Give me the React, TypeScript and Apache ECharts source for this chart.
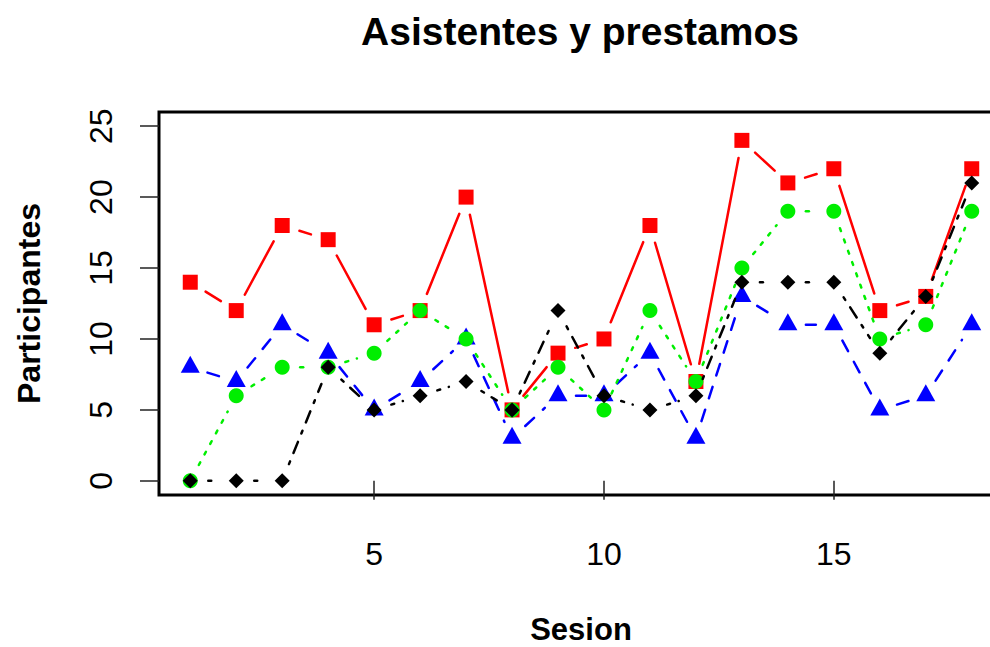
import React, { useEffect, useRef } from "react";
import * as echarts from "echarts";

const sesiones = [1, 2, 3, 4, 5, 6, 7, 8, 9, 10, 11, 12, 13, 14, 15, 16, 17, 18];
const rojo = [14, 12, 18, 17, 11, 12, 20, 5, 9, 10, 18, 7, 24, 21, 22, 12, 13, 22];
const azul = [8, 7, 11, 9, 5, 7, 10, 3, 6, 6, 9, 3, 13, 11, 11, 5, 6, 11];
const verde = [0, 6, 8, 8, 9, 12, 10, 5, 8, 5, 12, 7, 15, 19, 19, 10, 11, 19];
const negro = [0, 0, 0, 8, 5, 6, 7, 5, 12, 6, 5, 6, 14, 14, 14, 9, 13, 21];

const xTicks = [5, 10, 15];
const yTicks = [0, 5, 10, 15, 20, 25];

const FONT = "Liberation Sans, Arial, Helvetica, sans-serif";
const GAP = 18;
const LW = 2.5;

type Grupo = {
  name: string;
  values: number[];
  color: string;
  dash: number[] | null;
  symbol: string;
  size: number | number[];
  offset: number[];
};

const grupos: Grupo[] = [
  { name: "rojo", values: rojo, color: "#ff0000", dash: null, symbol: "rect", size: 15, offset: [0, 0] },
  { name: "azul", values: azul, color: "#0000ff", dash: [12, 12], symbol: "triangle", size: [19, 17], offset: [0, -3] },
  { name: "verde", values: verde, color: "#00ee00", dash: [3, 9], symbol: "circle", size: 15, offset: [0, 0] },
  { name: "negro", values: negro, color: "#000000", dash: [3, 9, 12, 9], symbol: "diamond", size: 15, offset: [0, 0] },
];

export default function App() {
  const ref = useRef<HTMLDivElement>(null);

  useEffect(() => {
    if (!ref.current) return;
    const chart = echarts.init(ref.current, null, { renderer: "svg" });

    const series: any[] = [];
    grupos.forEach((g, k) => {
      const segs = g.values.slice(0, -1).map((v, i) => [sesiones[i], v, sesiones[i + 1], g.values[i + 1]]);
      series.push({
        type: "custom",
        name: g.name + "-lineas",
        data: segs,
        encode: { x: [0, 2], y: [1, 3] },
        z: 2 + k * 2,
        silent: true,
        renderItem: (params: any, api: any) => {
          const p1 = api.coord([api.value(0), api.value(1)]);
          const p2 = api.coord([api.value(2), api.value(3)]);
          const dx = p2[0] - p1[0];
          const dy = p2[1] - p1[1];
          const len = Math.hypot(dx, dy);
          if (len <= 2 * GAP) return null;
          const ux = dx / len;
          const uy = dy / len;
          const style: any = { stroke: g.color, lineWidth: LW, lineCap: "round" };
          if (g.dash) style.lineDash = g.dash;
          return {
            type: "line",
            shape: {
              x1: p1[0] + ux * GAP,
              y1: p1[1] + uy * GAP,
              x2: p2[0] - ux * GAP,
              y2: p2[1] - uy * GAP,
            },
            style,
          };
        },
      });
      series.push({
        type: "scatter",
        name: g.name,
        data: g.values.map((v, i) => [sesiones[i], v]),
        symbol: g.symbol,
        symbolSize: g.size,
        symbolOffset: g.offset,
        itemStyle: { color: g.color, opacity: 1 },
        z: 3 + k * 2,
        silent: true,
      });
    });

    chart.setOption({
      animation: false,
      title: {
        text: "Asistentes y prestamos",
        left: 575,
        top: 7,
        textAlign: "center",
        textStyle: { fontSize: 39, fontWeight: "bold", fontFamily: FONT, color: "#000" },
      },
      grid: {
        left: 159,
        top: 112,
        bottom: 152,
        right: 7,
        show: true,
        borderColor: "#000",
        borderWidth: 3,
        backgroundColor: "transparent",
        containLabel: false,
        outerBoundsMode: "none",
      },
      xAxis: {
        type: "value",
        min: 0.32,
        max: 18.68,
        name: "Sesion",
        nameLocation: "middle",
        nameGap: 121,
        nameTextStyle: { fontSize: 31, lineHeight: 26, fontWeight: "bold", fontFamily: FONT, color: "#000" },
        axisLine: { show: false },
        splitLine: { show: false },
        axisTick: { show: true, length: 19, customValues: xTicks, lineStyle: { color: "#222", width: 1.5 } },
        axisLabel: { customValues: xTicks, fontSize: 32, fontFamily: FONT, color: "#000", margin: 43 },
      },
      yAxis: {
        type: "value",
        min: -1,
        max: 26,
        name: "Participantes",
        nameLocation: "middle",
        nameGap: 114,
        nameRotate: 90,
        nameTextStyle: { fontSize: 32, fontWeight: "bold", fontFamily: FONT, color: "#000" },
        axisLine: { show: false },
        splitLine: { show: false },
        axisTick: { show: true, length: 19, customValues: yTicks, lineStyle: { color: "#222", width: 1.5 } },
        axisLabel: { customValues: yTicks, rotate: 90, fontSize: 32, fontFamily: FONT, color: "#000", margin: 42 },
      },
      series,
    });

    return () => chart.dispose();
  }, []);

  return (
    <div style={{ position: "absolute", left: 0, top: 0, width: 990, height: 647, overflow: "hidden" }}>
      <div ref={ref} style={{ width: 1010, height: 647 }} />
    </div>
  );
}
